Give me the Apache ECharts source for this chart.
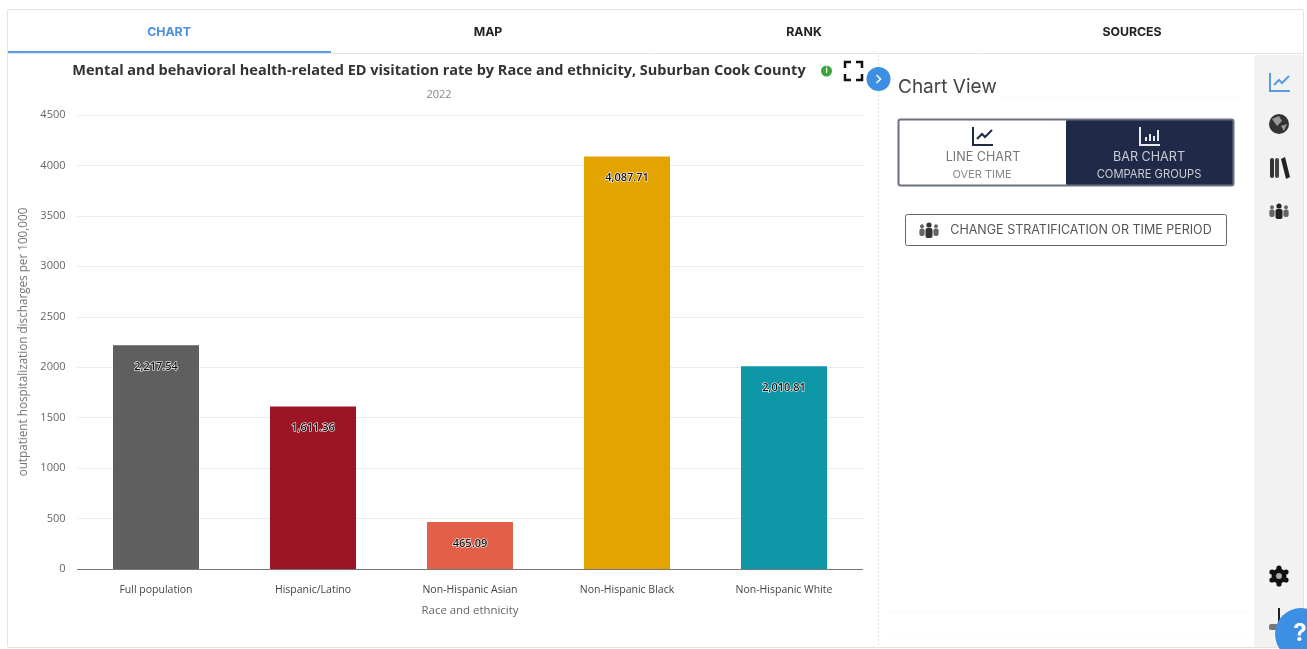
<!DOCTYPE html>
<html>
<head>
<meta charset="utf-8">
<title>ED visitation rate</title>
<style>html,body{margin:0;padding:0;background:#fff}#main{width:1307px;height:649px}</style>
<script src="https://cdn.jsdelivr.net/npm/echarts@6/dist/echarts.min.js"></script>
</head>
<body>
<div id="main"></div>
<script>
const categories = ['Full population', 'Hispanic/Latino', 'Non-Hispanic Asian', 'Non-Hispanic Black', 'Non-Hispanic White'];
const rates = [2217.54, 1611.36, 465.09, 4087.71, 2010.81];
const barColors = ['#5f5f5f', '#9b1524', '#e2604a', '#e3a300', '#0e97a6'];
const tabs = [['CHART', 169, '#4a8fe0'], ['MAP', 488, '#222'], ['RANK', 804, '#222'], ['SOURCES', 1132, '#222']];

const UI = 'Inter, "Open Sans", sans-serif';
const BODY = '"Open Sans", "Noto Sans", sans-serif';
const NAVY = '#1f2a48';

function rect(x, y, w, h, fill, stroke, extra) {
  return Object.assign({ type: 'rect', silent: true, shape: { x, y, width: w, height: h, r: 2 },
    style: { fill: fill || 'transparent', stroke: stroke || null, lineWidth: 1 } }, extra || {});
}
function line(x1, y1, x2, y2, stroke, lineWidth, dash) {
  return { type: 'line', silent: true, shape: { x1, y1, x2, y2 },
    style: { stroke, lineWidth: lineWidth || 1, lineDash: dash || null } };
}
function text(x, y, str, size, fill, weight, align, family) {
  return { type: 'text', silent: true, x, y, style: { text: str, fontSize: size, fill,
    fontWeight: weight || 'normal', align: align || 'center', verticalAlign: 'middle', fontFamily: family || UI } };
}
function circle(cx, cy, r, fill) {
  return { type: 'circle', silent: true, shape: { cx, cy, r }, style: { fill } };
}
function poly(points, stroke, lineWidth) {
  return { type: 'polyline', silent: true, shape: { points }, style: { stroke, lineWidth: lineWidth || 2, fill: 'transparent' } };
}
function shape(points, fill) {
  return { type: 'polygon', silent: true, shape: { points }, style: { fill } };
}

// Small glyphs for the control panel and the side rail
function lineIcon(x, y, c) {
  return [poly([[x, y], [x, y + 18], [x + 20, y + 18]], c, 2), poly([[x + 4, y + 12], [x + 9, y + 7], [x + 12, y + 10], [x + 19, y + 3]], c, 2)];
}
function barIcon(x, y, c) {
  return [poly([[x, y], [x, y + 18], [x + 20, y + 18]], c, 2), line(x + 6, y + 14, x + 6, y + 10, c, 2), line(x + 10, y + 14, x + 10, y + 7, c, 2),
    line(x + 14, y + 14, x + 14, y + 9, c, 2), line(x + 18, y + 14, x + 18, y + 3, c, 2)];
}
function peopleIcon(cx, cy, c) {
  const out = [];
  [[-7, 0.75, '#666'], [7, 0.75, '#666'], [0, 1, c]].forEach(([dx, s, col]) => {
    out.push(circle(cx + dx, cy - 5 * s, 2.6 * s, col));
    out.push(rect(cx + dx - 3.5 * s, cy - 2 * s, 7 * s, 10 * s, col));
  });
  return out;
}
function gearIcon(cx, cy) {
  const teeth = [[0, -8], [7, -4], [7, 4], [0, 8], [-7, 4], [-7, -4]];
  return [...teeth.map(t => circle(cx + t[0], cy + t[1], 2.6, '#111')), circle(cx, cy, 7.5, '#111'), circle(cx, cy, 3, '#aaa')];
}

const chrome = [
  // outer card and tab strip
  rect(7.5, 9.5, 1296, 638, '#fff', '#e2e2e2', { z: -1 }),
  line(8, 53.5, 1303, 53.5, '#e4e4e4', 1),
  line(8, 52, 331, 52, '#5b9be6', 2),
  ...tabs.map(t => text(t[1], 32, t[0], 12.3, t[2], 700)),

  // title row controls
  circle(826.5, 71, 5.5, '#3aa63a'),
  text(826.5, 71, 'i', 8, '#fff', 700),
  poly([[845, 68], [845, 62], [851, 62]], '#111', 2.5), poly([[856, 62], [862, 62], [862, 68]], '#111', 2.5),
  poly([[845, 74], [845, 80], [851, 80]], '#111', 2.5), poly([[856, 80], [862, 80], [862, 74]], '#111', 2.5),

  // control panel
  line(878.5, 55, 878.5, 647, '#e2e2e2', 1, [2, 2]),
  text(898, 87, 'Chart View', 19, '#444', 'normal', 'left'),
  line(1000, 97.5, 1240, 97.5, '#e4e4e4', 1, [1, 3]),
  rect(1066, 119.5, 167.5, 66, NAVY),
  rect(898.5, 119.5, 335, 66, 'transparent', '#6b7080', { style: { fill: 'transparent', stroke: '#6b7080', lineWidth: 2 } }),
  ...lineIcon(973, 127, NAVY),
  ...barIcon(1140, 127, '#e8eaf0'),
  text(983, 157, 'LINE CHART', 12.6, '#777', 'normal'),
  text(982, 175, 'OVER TIME', 11, '#888', 'normal'),
  text(1149, 157, 'BAR CHART', 12.6, '#c9ccd4', 'normal'),
  text(1149, 175, 'COMPARE GROUPS', 11.2, '#c9ccd4', 'normal'),
  rect(905.5, 214.5, 321, 31, '#fff', '#666'),
  ...peopleIcon(929, 230, '#333'),
  text(1081, 230, 'CHANGE STRATIFICATION OR TIME PERIOD', 12.5, '#555', 'normal'),
  line(888, 612.5, 1250, 612.5, '#e8e8e8', 1, [1, 3]),
  line(888, 633.5, 1250, 633.5, '#eeeeee', 1, [1, 3]),

  // side rail
  rect(1254, 55, 49, 592, '#f2f2f2'),
  ...lineIcon(1270, 73, '#5b9be6'),
  circle(1279, 124, 10, '#333'),
  shape([[1272, 119], [1279, 116], [1282, 121], [1277, 126]], '#999'),
  shape([[1281, 126], [1287, 124], [1284, 131]], '#999'),
  rect(1270, 158, 4, 20, '#333'), rect(1275, 158, 4, 20, '#444'),
  shape([[1281, 159], [1285, 157], [1290, 177], [1286, 179]], '#222'),
  ...peopleIcon(1279, 211, '#222'),
  ...gearIcon(1279, 576),
  line(1279, 608, 1279, 622, '#222', 2),
  rect(1269, 624, 12, 6, '#777'),

  // help bubble
  circle(1301, 634, 26, '#3d8fe3'),
  text(1300, 634, '?', 24, '#fff', 700),

  // panel toggle
  circle(878.5, 79, 12, '#3d8fe3'),
  poly([[876.5, 75], [880.5, 79], [876.5, 83]], '#fff', 1.5)
];

const chart = echarts.init(document.getElementById('main'), null, { renderer: 'canvas' });
chart.setOption({
  animation: false,
  backgroundColor: '#fff',
  title: {
    text: 'Mental and behavioral health-related ED visitation rate by Race and ethnicity, Suburban Cook County',
    subtext: '2022',
    left: 434, top: 58, textAlign: 'center', itemGap: 11,
    textStyle: { fontFamily: BODY, fontSize: 14.5, fontWeight: 700, color: '#333' },
    subtextStyle: { fontFamily: BODY, fontSize: 11, color: '#888' }
  },
  grid: { left: 77.5, top: 115, width: 785, height: 454 },
  xAxis: {
    type: 'category',
    data: categories,
    name: 'Race and ethnicity',
    nameLocation: 'middle',
    nameGap: 36,
    nameTextStyle: { fontFamily: BODY, fontSize: 11.4, color: '#666' },
    axisTick: { show: false },
    axisLine: { lineStyle: { color: '#777', width: 1 } },
    axisLabel: { fontFamily: BODY, fontSize: 10.5, color: '#444', margin: 16 }
  },
  yAxis: {
    type: 'value',
    min: 0, max: 4500, interval: 500,
    name: 'outpatient hospitalization discharges per 100,000',
    nameLocation: 'middle',
    nameGap: 41,
    nameTextStyle: { fontFamily: BODY, fontSize: 11.7, color: '#777' },
    axisLabel: { fontFamily: BODY, fontSize: 11, color: '#666', margin: 12, formatter: v => String(v) },
    axisLine: { show: false },
    axisTick: { show: false },
    splitLine: { lineStyle: { color: '#d9d9d9', width: 1, type: 'dotted' } }
  },
  series: [{
    type: 'bar',
    barWidth: 86,
    data: rates.map((v, i) => ({ value: v, itemStyle: { color: barColors[i] } })),
    label: {
      show: true,
      position: 'insideTop',
      distance: 16,
      fontFamily: BODY,
      fontSize: 11,
      fontWeight: 600,
      color: '#111',
      textBorderColor: '#fff',
      textBorderWidth: 1.2,
      formatter: p => p.value.toLocaleString('en-US', { minimumFractionDigits: 2, maximumFractionDigits: 2 })
    }
  }],
  graphic: { elements: chrome }
});
</script>
</body>
</html>
